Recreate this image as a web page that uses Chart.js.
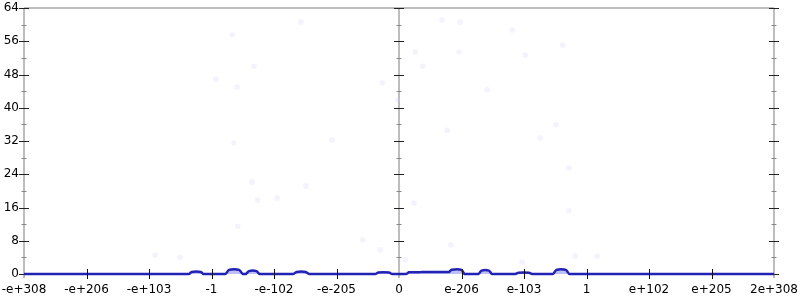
<!DOCTYPE html>
<html>
<head>
<meta charset="utf-8">
<script src="https://cdn.jsdelivr.net/npm/chart.js@4/dist/chart.umd.min.js"></script>
<style>
html,body{margin:0;padding:0;background:#fff;}
#wrap{width:800px;height:300px;}
</style>
</head>
<body>
<div id="wrap"><canvas id="c" width="800" height="300"></canvas></div>
<script>
// x positions are in "exponent band" units: -6 .. 6 (one unit per labelled tick)
const xTickLabels = ["-e+308","-e+206","-e+103","-1","-e-102","-e-205","0","e-206","e-103","1","e+102","e+205","2e+308"];
const yTicks = [0, 8, 16, 24, 32, 40, 48, 56, 64];

// Histogram outline (band position, count)
const histX = [-6, -3.36, -3.32, -3.17, -3.13, -2.78, -2.72, -2.56, -2.5, -2.45, -2.4, -2.28, -2.23, -1.69, -1.64, -1.49, -1.44,
  -0.38, -0.33, -0.16, -0.11, 0.11, 0.16, 0.32, 0.37, 0.63, 0.68, 0.8, 0.84, 1.0, 1.05, 1.27, 1.32, 1.44, 1.49,
  1.86, 1.91, 2.08, 2.13, 2.46, 2.52, 2.67, 2.73, 6];
const histY = [0, 0, 0.5, 0.5, 0, 0, 1.0, 1.0, 0, 0, 0.7, 0.7, 0, 0, 0.5, 0.5, 0,
  0, 0.35, 0.35, 0, 0, 0.4, 0.4, 0.5, 0.5, 0.5, 0.5, 1.0, 1.0, 0, 0, 0.8, 0.8, 0,
  0, 0.3, 0.3, 0, 0, 1.0, 1.0, 0, 0];

// Faint scattered samples
const dotX = [-3.23, -2.67, -2.93, -2.32, -2.59, -1.57, -2.64, -1.07, -0.27, -0.02, -2.35, -1.49, -2.26, -1.95, -2.58, -0.58, -0.30,
  0.69, 0.98, 0.26, 0.38, 0.96, 1.81, 2.02, 2.62, 1.41, 0.77, 2.26, 2.51, 2.72, 0.24, 2.72, 0.83, 1.97, 2.82, 3.17, -3.9, -3.5, 0.1];
const dotY = [64.5, 57.5, 46.9, 50.0, 45.0, 60.6, 31.5, 32.2, 46.0, 41.9, 22.1, 21.2, 17.8, 18.3, 11.5, 8.2, 5.8,
  61.1, 60.6, 53.4, 50.0, 53.4, 58.7, 52.7, 55.1, 44.3, 34.6, 32.7, 35.9, 25.5, 17.1, 15.2, 7.0, 2.9, 4.3, 4.3, 4.5, 4.0, 3.5];

const histData = histX.map((x, i) => ({x: x, y: histY[i]}));
const dotData = dotX.map((x, i) => ({x: x, y: dotY[i]}));

const axesPlugin = {
  id: 'axesPlugin',
  beforeDatasetsDraw(chart) {
    const {ctx, chartArea: a, scales: {x, y}} = chart;
    ctx.save();
    ctx.strokeStyle = '#bdbdbd';
    ctx.lineWidth = 2;
    ctx.beginPath();
    ctx.moveTo(a.left, a.top); ctx.lineTo(a.right, a.top);
    [-6, 0, 6].forEach(v => {
      const px = Math.round(x.getPixelForValue(v));
      ctx.moveTo(px, a.top); ctx.lineTo(px, a.bottom + 4);
    });
    ctx.stroke();
    [-6, 0, 6].forEach(v => {
      const px = Math.round(x.getPixelForValue(v));
      for (let t = 0; t <= 64; t += 4) {
        const py = Math.round(y.getPixelForValue(t)) + 0.5;
        const major = t % 8 === 0;
        ctx.strokeStyle = major ? '#222' : '#888';
        ctx.lineWidth = 1;
        const half = major ? 5 : 2.5;
        ctx.beginPath();
        ctx.moveTo(px - half, py); ctx.lineTo(px + half, py);
        ctx.stroke();
      }
    });
    ctx.restore();
  },
  afterDatasetsDraw(chart) {
    const {ctx, chartArea: a, scales: {x}} = chart;
    ctx.save();
    ctx.strokeStyle = '#111';
    ctx.lineWidth = 1;
    for (let v = -5; v <= 5; v++) {
      if (v === 0) continue;
      const px = Math.round(x.getPixelForValue(v)) + 0.5;
      ctx.beginPath();
      ctx.moveTo(px, a.bottom - 5); ctx.lineTo(px, a.bottom + 5);
      ctx.stroke();
    }
    ctx.restore();
  }
};

function noPad(s) { s.paddingLeft = 0; s.paddingRight = 0; s.paddingTop = 0; s.paddingBottom = 0; }

new Chart(document.getElementById('c'), {
  type: 'scatter',
  data: {
    datasets: [
      {
        type: 'scatter',
        data: dotData,
        pointRadius: 2.8,
        pointBorderWidth: 0,
        backgroundColor: 'rgba(200,200,245,0.22)',
        borderColor: 'rgba(0,0,0,0)',
        order: 2
      },
      {
        type: 'line',
        data: histData,
        borderColor: '#2222b4',
        borderWidth: 2.5,
        backgroundColor: 'rgba(70,70,240,0.35)',
        fill: 'origin',
        pointRadius: 0,
        tension: 0.25,
        clip: false,
        order: 1
      }
    ]
  },
  options: {
    responsive: false,
    animation: false,
    events: [],
    layout: {padding: {top: 8, right: 26, left: 0, bottom: 0}},
    plugins: {legend: {display: false}, tooltip: {enabled: false}},
    scales: {
      x: {
        type: 'linear',
        min: -6, max: 6,
        afterFit: s => { s.height = 26; noPad(s); },
        afterBuildTicks: s => { s.ticks = xTickLabels.map((_, i) => ({value: i - 6})); },
        grid: {display: false, drawTicks: false},
        border: {display: false},
        ticks: {
          autoSkip: false, maxRotation: 0,
          padding: 9,
          color: '#000',
          font: {family: 'DejaVu Sans', size: 12},
          callback: (v) => xTickLabels[Math.round(v) + 6]
        }
      },
      y: {
        type: 'linear',
        min: 0, max: 64,
        afterFit: s => { s.width = 24; noPad(s); },
        afterBuildTicks: s => { s.ticks = yTicks.map(v => ({value: v})); },
        grid: {display: false, drawTicks: false},
        border: {display: false},
        ticks: {
          padding: 5,
          color: '#000',
          font: {family: 'DejaVu Sans', size: 12}
        }
      }
    }
  },
  plugins: [axesPlugin]
});
</script>
</body>
</html>
